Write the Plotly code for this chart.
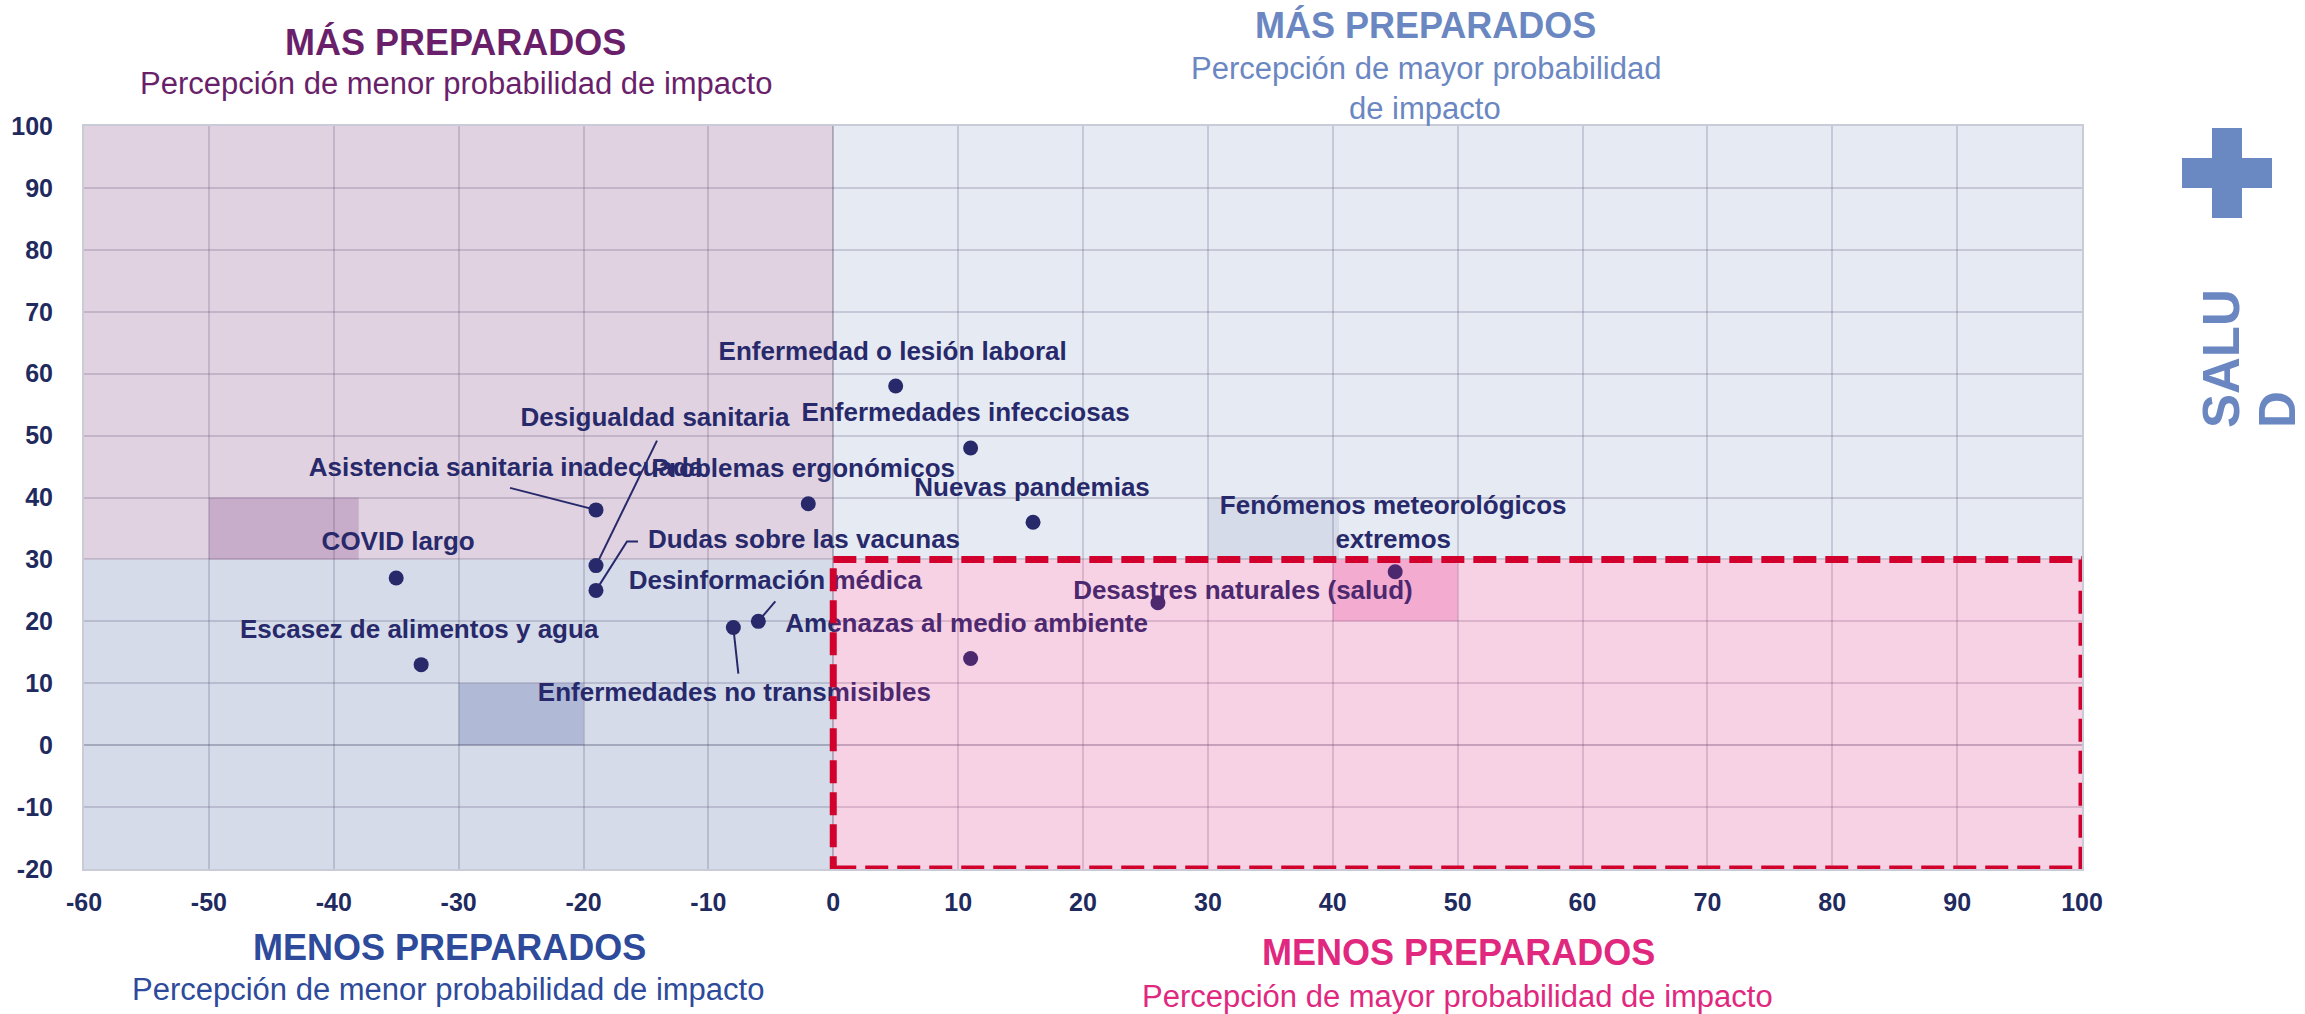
import plotly.graph_objects as go

# ---------------- data ----------------
riesgos = [
    "Enfermedad o lesión laboral",
    "Enfermedades infecciosas",
    "Nuevas pandemias",
    "Problemas ergonómicos",
    "Asistencia sanitaria inadecuada",
    "Desigualdad sanitaria",
    "Dudas sobre las vacunas",
    "COVID largo",
    "Escasez de alimentos y agua",
    "Desinformación médica",
    "Enfermedades no transmisibles",
    "Amenazas al medio ambiente",
    "Desastres naturales (salud)",
    "Fenómenos meteorológicos<br>extremos",
]
impacto = [5, 11, 16, -2, -19, -19, -19, -35, -33, -6, -8, 11, 26, 45]
preparacion = [58, 48, 36, 39, 38, 29, 25, 27, 13, 20, 19, 14, 23, 28]

x_ticks = [-60, -50, -40, -30, -20, -10, 0, 10, 20, 30, 40, 50, 60, 70, 80, 90, 100]
x_tick_labels = ["-60", "-50", "-40", "-30", "-20", "-10", "0", "10", "20", "30",
                 "40", "50", "60", "70", "80", "90", "100"]
y_ticks = [-20, -10, 0, 10, 20, 30, 40, 50, 60, 70, 80, 90, 100]
y_tick_labels = ["-20", "-10", "0", "10", "20", "30", "40", "50", "60", "70", "80", "90", "100"]

# ---------------- layout constants ----------------
W, H = 2305, 1014
ML, MR, MT, MB = 84, 223, 126, 145
PW = W - ML - MR
PH = H - MT - MB
X_RANGE = [-60, 100]
Y_RANGE = [-20, 100]
FONT = "Liberation Sans, Arial, sans-serif"
NAVY = "#27296b"
TICK = "#1f2a5e"

# label offsets (pixels, relative to the point) -- layout, not data
label_offsets = [(-3, -33), (-5, -33), (-1, -33), (-5, -33), (-90, -40), (59, -146),
                 (208, -49), (2, -34), (-2, -33), (17, -39), (1, 67), (-4, -33),
                 (85, -10), (-2, -47)]
# leader lines (pixel offsets from the point)
leaders = {4: [(-86, -22)], 5: [(61, -125)], 6: [(31, -49), (42, -49)],
           9: [(17, -20)], 10: [(5, 46)]}


def dxd(px):
    return px * (X_RANGE[1] - X_RANGE[0]) / PW


def dyd(py):
    return -py * (Y_RANGE[1] - Y_RANGE[0]) / PH


def paper(px, py):
    return (px - ML) / PW, (H - MB - py) / PH


fig = go.Figure()

# leader lines
lx, ly = [], []
for i, pts in leaders.items():
    lx.append(impacto[i]); ly.append(preparacion[i])
    for (ox, oy) in pts:
        lx.append(impacto[i] + dxd(ox)); ly.append(preparacion[i] + dyd(oy))
    lx.append(None); ly.append(None)
fig.add_trace(go.Scatter(x=lx, y=ly, mode="lines", line=dict(color=NAVY, width=2),
                         hoverinfo="skip", showlegend=False))

# points
fig.add_trace(go.Scatter(x=impacto, y=preparacion, mode="markers",
                         marker=dict(size=15, color=NAVY, line=dict(width=0)),
                         hoverinfo="skip", showlegend=False))

# labels
tx = [impacto[i] + dxd(label_offsets[i][0]) for i in range(len(riesgos))]
ty = [preparacion[i] + dyd(label_offsets[i][1]) for i in range(len(riesgos))]
fig.add_trace(go.Scatter(x=tx, y=ty, mode="text", text=riesgos, textposition="middle center",
                         textfont=dict(family=FONT, size=26, color=NAVY, weight="bold"),
                         hoverinfo="skip", showlegend=False))

shapes = []


def rect(x0, x1, y0, y1, color, layer="below"):
    shapes.append(dict(type="rect", xref="x", yref="y", x0=x0, x1=x1, y0=y0, y1=y1,
                       fillcolor=color, line=dict(width=0), layer=layer))


rect(-60, 0, 30, 100, "#e0d2e1")
rect(0, 100, 30, 100, "#e6eaf3")
rect(-60, 0, -20, 30, "#d5dbe9")
rect(-50, -38, 30, 40, "#c7adc9")
rect(-30, -20, 0, 10, "#b0b9d6")
rect(30, 40.5, 30, 40, "#d5dbe9")
rect(40, 50, 20, 30, "#fad0e6")
rect(0, 100, -20, 30, "rgba(217,36,126,0.21)", layer="above")
shapes.append(dict(type="rect", xref="x", yref="y", x0=0, x1=100, y0=-20, y1=30,
                   fillcolor="rgba(0,0,0,0)", layer="above",
                   line=dict(color="#d2002d", width=7, dash="23px,9px")))

# plus sign (paper coords)
cx, cy = 2227, 173
arm, half = 45, 15
pts = [(cx - half, cy - arm), (cx + half, cy - arm), (cx + half, cy - half), (cx + arm, cy - half),
       (cx + arm, cy + half), (cx + half, cy + half), (cx + half, cy + arm), (cx - half, cy + arm),
       (cx - half, cy + half), (cx - arm, cy + half), (cx - arm, cy - half), (cx - half, cy - half)]
path = "M " + " L ".join(f"{paper(a, b)[0]:.5f},{paper(a, b)[1]:.5f}" for a, b in pts) + " Z"
shapes.append(dict(type="path", xref="paper", yref="paper", path=path,
                   fillcolor="#6a88c2", line=dict(width=0), layer="above"))

annotations = []


def ann(text, px, py, size, color, bold=False, angle=0):
    xp, yp = paper(px, py)
    annotations.append(dict(text=text, x=xp, y=yp, xref="paper", yref="paper",
                            xanchor="center", yanchor="middle", showarrow=False,
                            textangle=angle,
                            font=dict(family=FONT, size=size, color=color,
                                      weight="bold" if bold else "normal")))


PURPLE = "#6a1f6b"
LBLUE = "#6b87c2"
RBLUE = "#2d4a9b"
PINK = "#e0287f"
ann("MÁS PREPARADOS", 455, 42, 36, PURPLE, True)
ann("Percepción de menor probabilidad de impacto", 456, 84, 31, PURPLE)
ann("MÁS PREPARADOS", 1425, 26, 36, LBLUE, True)
ann("Percepción de mayor probabilidad", 1426, 69, 31, LBLUE)
ann("de impacto", 1425, 108, 31, LBLUE)
ann("MENOS PREPARADOS", 449, 947, 36, RBLUE, True)
ann("Percepción de menor probabilidad de impacto", 448, 989, 31, RBLUE)
ann("MENOS PREPARADOS", 1458, 953, 36, PINK, True)
ann("Percepción de mayor probabilidad de impacto", 1457, 996, 31, PINK)
ann("SALU", 2221, 359, 51, LBLUE, True, -90)
ann("D", 2277, 410, 51, LBLUE, True, -90)

GRID = "rgba(60,50,90,0.18)"
axis_common = dict(showgrid=True, gridcolor=GRID, gridwidth=2, zeroline=True,
                   zerolinecolor="rgba(40,40,70,0.28)", zerolinewidth=2,
                   showline=True, linecolor="#c9cbd6", linewidth=2, mirror=True,
                   ticks="", fixedrange=True, automargin=False,
                   tickfont=dict(family=FONT, size=25, color=TICK, weight="bold"))

fig.update_layout(
    width=W, height=H, margin=dict(l=ML, r=MR, t=MT, b=MB, autoexpand=False),
    paper_bgcolor="white", plot_bgcolor="white",
    xaxis=dict(range=X_RANGE, tickvals=x_ticks, ticktext=x_tick_labels,
               ticklabelstandoff=10, **axis_common),
    yaxis=dict(range=Y_RANGE, tickvals=y_ticks, ticktext=y_tick_labels,
               ticklabelstandoff=24, **axis_common),
    shapes=shapes, annotations=annotations, showlegend=False, hovermode=False,
)

fig.write_html("out.html", config={"displayModeBar": False, "staticPlot": True},
               post_script="document.body.style.margin='0';document.body.style.overflow='hidden';")
